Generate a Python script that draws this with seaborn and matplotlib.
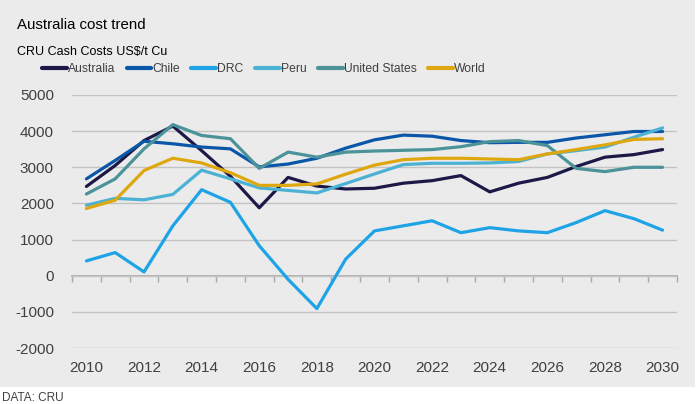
import matplotlib
matplotlib.use("Agg")
import matplotlib.pyplot as plt
import seaborn as sns
import pandas as pd
from matplotlib import font_manager as fm
from matplotlib.patches import Rectangle

years = list(range(2010, 2031))
australia = [2470, 3050, 3740, 4140, 3460, 2750, 1880, 2720, 2480, 2400, 2420,
             2560, 2630, 2770, 2320, 2560, 2720, 3020, 3280, 3350, 3490]
chile = [2680, 3190, 3720, 3650, 3560, 3510, 3010, 3090, 3250, 3530, 3760,
         3890, 3860, 3740, 3680, 3690, 3690, 3810, 3900, 3990, 3990]
drc = [410, 640, 105, 1380, 2380, 2030, 830, -100, -910, 460, 1240,
       1380, 1520, 1190, 1330, 1240, 1190, 1470, 1800, 1580, 1260]
peru = [1950, 2140, 2100, 2250, 2920, 2680, 2430, 2360, 2290, 2550, 2815,
        3075, 3110, 3110, 3120, 3160, 3370, 3460, 3560, 3830, 4090]
united_states = [2260, 2680, 3510, 4180, 3880, 3790, 2970, 3420, 3280, 3420, 3450,
                 3470, 3490, 3570, 3710, 3740, 3600, 2970, 2880, 3000, 3000]
world = [1860, 2090, 2910, 3250, 3120, 2850, 2500, 2500, 2540, 2810, 3060,
         3210, 3250, 3250, 3230, 3210, 3370, 3490, 3620, 3770, 3790]

series_names = ["Australia", "Chile", "DRC", "Peru", "United States", "World"]
series_values = [australia, chile, drc, peru, united_states, world]
colors = ["#1c1848", "#0a56a8", "#1ea4e6", "#4cb2d4", "#4b9299", "#dfa70f"]
y_ticks = [5000, 4000, 3000, 2000, 1000, 0, -1000, -2000]
x_tick_labels = [str(y) for y in range(2010, 2031, 2)]

title = "Australia cost trend"
subtitle = "CRU Cash Costs US$/t Cu"
source = "DATA: CRU"

rows = []
for name, vals in zip(series_names, series_values):
    for yr, v in zip(years, vals):
        rows.append({"Year": yr, "Value": v, "Series": name})
df = pd.DataFrame(rows)

sns.set_theme(style="white")
names = {f.name for f in fm.fontManager.ttflist}
narrow = "Liberation Sans Narrow" in names
plt.rcParams["font.family"] = ["Liberation Sans", "DejaVu Sans"]
head_family = ["Liberation Sans Narrow", "Liberation Sans"] if narrow else ["Liberation Sans", "DejaVu Sans"]
title_size = 12.7 if narrow else 10.8
sub_size = 10.6 if narrow else 9.0
leg_size = 10.4 if narrow else 8.7

fig = plt.figure(figsize=(6.98, 4.04), dpi=100, facecolor="white")
fig.patches.append(Rectangle((0, 1 - 387 / 404), 695 / 698, 387 / 404,
                             transform=fig.transFigure, facecolor="#ebebeb",
                             edgecolor="none", zorder=-10))

ax = fig.add_axes([72 / 698, 1 - 348 / 404, (677 - 72) / 698, (348 - 95) / 404])
ax.set_facecolor("none")

palette = dict(zip(series_names, colors))
sns.lineplot(data=df, x="Year", y="Value", hue="Series", hue_order=series_names,
             palette=palette, linewidth=2.3, ax=ax, legend=False)
for ln in ax.lines:
    ln.set_solid_joinstyle("round")
    ln.set_solid_capstyle("round")

ax.set_xlim(2009.5, 2030.5)
ax.set_ylim(-2000, 5000)
ax.set_yticks(y_ticks)
ax.set_yticklabels([str(t) for t in y_ticks])
ax.set_xticks(list(range(2010, 2031, 2)))
ax.set_xticklabels(x_tick_labels)
ax.grid(axis="y", color="#c3c3c3", linewidth=1.0)
ax.set_axisbelow(True)
for s in ax.spines.values():
    s.set_visible(False)
ax.tick_params(axis="both", length=0, labelsize=11, labelcolor="#404040")
ax.tick_params(axis="x", pad=9)
ax.tick_params(axis="y", pad=13)
ax.set_xlabel("")
ax.set_ylabel("")

sec = ax.secondary_xaxis(2 / 7)
sec.set_xticks([y + 0.5 for y in range(2009, 2031)])
sec.set_xticklabels([])
sec.tick_params(axis="x", direction="out", length=4, width=1.0, color="#a8a8a8",
                labelbottom=False, labeltop=False)
for s in sec.spines.values():
    s.set_color("#a8a8a8")
    s.set_linewidth(1.2)

fig.text(17 / 698, 1 - 29 / 404, title, fontsize=title_size, color="black",
         family=head_family, ha="left", va="baseline")
fig.text(17 / 698, 1 - 55 / 404, subtitle, fontsize=sub_size, color="black",
         family=head_family, ha="left", va="baseline")
fig.text(2 / 698, 1 - 401 / 404, source, fontsize=8.5, color="#404040",
         family=head_family, ha="left", va="baseline")

handles = [plt.Line2D([0], [0], color=c, linewidth=3.0) for c in colors]
leg = fig.legend(handles, series_names, loc="center left",
                 bbox_to_anchor=(42 / 698, 1 - 69 / 404), ncol=6, frameon=False,
                 borderaxespad=0, borderpad=0, handlelength=2.05, handletextpad=0.08,
                 columnspacing=0.95, prop={"family": head_family, "size": leg_size})
for t in leg.get_texts():
    t.set_color("#404040")

fig.savefig("out.png", dpi=100, facecolor="white")
